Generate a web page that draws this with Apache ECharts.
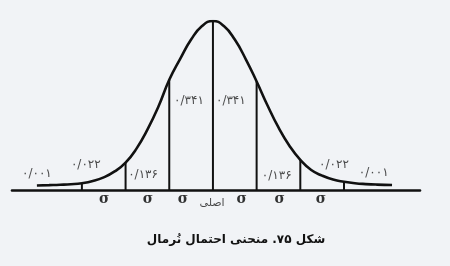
<!DOCTYPE html>
<html><head><meta charset="utf-8">
<script src="https://cdn.jsdelivr.net/npm/echarts@6/dist/echarts.min.js"></script>
<style>html,body{margin:0;padding:0;background:#f1f3f6}#c{width:450px;height:266px}</style>
</head><body><div id="c"></div>
<script>
// curve: x in sigma units, y relative to peak height
const curveX = [-4.03,-3.75,-3.5,-3.25,-3.0,-2.75,-2.5,-2.25,-2.0,-1.75,-1.5,-1.25,-1.0,-0.75,-0.5,-0.25,0,0.25,0.5,0.75,1.0,1.25,1.5,1.75,2.0,2.25,2.5,2.75,3.0,3.25,3.5,3.75,4.1];
const curveY = [0.027,0.029,0.031,0.034,0.040,0.053,0.075,0.110,0.162,0.245,0.357,0.492,0.652,0.776,0.89,0.97,1.0,0.97,0.89,0.775,0.642,0.50,0.37,0.262,0.178,0.118,0.085,0.062,0.049,0.040,0.035,0.032,0.030];
const dividerX = [-3,-2,-1,0,1,2,3];
const areaLabels = ['۰/۰۰۱','۰/۰۲۲','۰/۱۳۶','۰/۳۴۱','۰/۳۴۱','۰/۱۳۶','۰/۰۲۲','۰/۰۰۱'];
const areaLabelX = [-4.03,-2.91,-1.60,-0.55,0.41,1.46,2.77,3.68];
const areaLabelY = [0.095,0.148,0.089,0.527,0.527,0.083,0.148,0.100];
const sigmaX = [-2.49,-1.49,-0.69,0.66,1.53,2.47];
const sigmaY = -0.053;
const centerLabel = 'اصلی';
const caption = 'شکل ۷۵. منحنی احتمال نُرمال';

const chart = echarts.init(document.getElementById('c'));
const curve = curveX.map((x,i)=>[x,curveY[i]]);
const dividers = dividerX.map(x=>[x,curveY[curveX.indexOf(x)]]);
chart.setOption({
  backgroundColor:'#f1f3f6',
  animation:false,
  title:{text:caption,left:231,top:229,textAlign:'center',
    textStyle:{fontFamily:'DejaVu Sans',fontWeight:'bold',fontSize:12,color:'#111'}},
  grid:{left:12,width:408,top:21,bottom:42.2},
  xAxis:{type:'value',min:-4.6,max:4.74,
    axisLine:{onZero:true,lineStyle:{color:'#111',width:2.6}},
    axisTick:{show:false},axisLabel:{show:false},splitLine:{show:false}},
  yAxis:{type:'value',min:-0.2,max:1,show:false,splitLine:{show:false}},
  series:[
    {type:'bar',data:dividers,barWidth:2,itemStyle:{color:'#111'}},
    {type:'line',data:curve,smooth:0.5,symbol:'none',
      lineStyle:{color:'#111',width:2.6}},
    {type:'scatter',symbolSize:0,
      data:areaLabelX.map((x,i)=>({value:[x,areaLabelY[i]],label:{formatter:areaLabels[i]}})),
      label:{show:true,position:'inside',fontFamily:'DejaVu Sans',fontSize:12,color:'#1a1a1a'}},
    {type:'scatter',symbolSize:0,
      data:sigmaX.map(x=>[x,sigmaY]),
      label:{show:true,position:'inside',formatter:'σ',fontFamily:'DejaVu Serif',fontWeight:'bold',fontSize:14,color:'#000'}},
    {type:'scatter',symbolSize:0,
      data:[[-0.02,-0.078]],
      label:{show:true,position:'inside',formatter:centerLabel,fontFamily:'DejaVu Sans',fontSize:11,color:'#1a1a1a'}}
  ]
});
</script></body></html>
